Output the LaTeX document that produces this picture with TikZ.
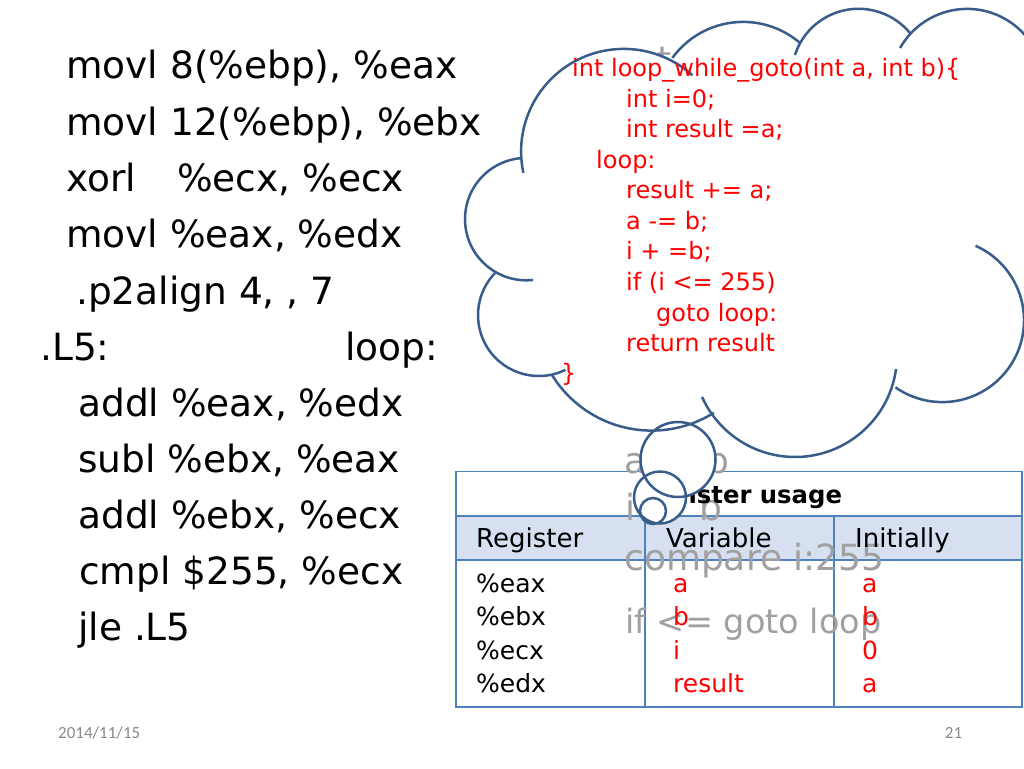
\documentclass[tikz,border=0pt]{standalone}
\usepackage{fontspec}
\setmainfont{DejaVu Sans}
\newfontfamily\footfont{Carlito}
\definecolor{cloudline}{RGB}{56,93,138}
\definecolor{tblline}{RGB}{79,129,189}
\definecolor{tblhead}{RGB}{214,224,240}
\definecolor{codered}{RGB}{255,0,0}
\definecolor{ghost}{RGB}{160,160,160}
\definecolor{footgray}{RGB}{137,137,137}
\newcommand\lobearc[5]{\draw[cloudstroke] ([shift={(#4:#3)}]#1,#2) arc[start angle=#4, end angle=#5, radius=#3];}
\begin{document}
\begin{tikzpicture}[x=1pt,y=-1pt,
  asm/.style={anchor=base west, inner sep=0, font=\fontsize{37.5}{40}\selectfont},
  code/.style={anchor=base west, inner sep=0, text=codered, font=\fontsize{24}{26}\selectfont},
  ghosttxt/.style={anchor=base west, inner sep=0, text=ghost, font=\fontsize{36}{38}\selectfont},
  cell/.style={anchor=base west, inner sep=0, font=\fontsize{25}{27}\selectfont},
  cellred/.style={cell, text=codered},
  foot/.style={inner sep=0, text=footgray, font=\footfont\fontsize{17}{19}\selectfont},
  cloudstroke/.style={draw=cloudline, line width=2.5pt},
  tbl/.style={draw=tblline, line width=1.2pt}]
\useasboundingbox (0,0) rectangle (1024,768);
\fill[white] (0,0) rectangle (1024,768);

% assembly
\node[asm] (a1) at (66,78) {movl 8(\%ebp), \%eax};
\node[asm] (a2) at (66,135) {movl 12(\%ebp), \%ebx};
\node[asm] (a3) at (66,191) {xorl\hspace{41pt}\%ecx, \%ecx};
\node[asm] (a4) at (66,247) {movl \%eax, \%edx};
\node[asm] (a5) at (76,304) {.p2align 4, , 7};
\node[asm] (a6) at (40,360) {.L5:};
\node[asm] (a6b) at (345,360) {loop:};
\node[asm] (a7) at (78,416) {addl \%eax, \%edx};
\node[asm] (a8) at (78,472) {subl \%ebx, \%eax};
\node[asm] (a9) at (78,528) {addl \%ebx, \%ecx};
\node[asm] (a10) at (79,584) {cmpl \$255, \%ecx};
\node[asm] (a11) at (78,640) {jle .L5};

% table
\fill[tblhead] (456,516) rectangle (1022,560);
\draw[tbl] (456,471.5) rectangle (1022,707);
\draw[tbl] (456,560) -- (1022,560);
\draw[tbl] (645,516) -- (645,707);
\draw[tbl] (834,516) -- (834,707);
\draw[tblline, line width=2.6pt] (456,516) -- (1022,516);

% ghost text
\node[ghosttxt] (g0) at (657,72) {t};
\node[ghosttxt] (g1a) at (624,473) {a};
\node[ghosttxt] (g1b) at (706,473) {b};
\node[ghosttxt] (g2a) at (625,520) {i};
\node[ghosttxt] (g2b) at (699,520) {b};
\node[ghosttxt] (g3) at (624,570) {compare i:255};
\node[ghosttxt, font=\fontsize{33.5}{36}\selectfont] (g4) at (625,633) {if <= goto loop};

% table text
\node[anchor=base, inner sep=0, font=\bfseries\fontsize{24.3}{26}\selectfont] (title) at (739,503) {Register usage};
\node[cell, font=\fontsize{26}{28}\selectfont] (h1) at (476,547) {Register};
\node[cell, font=\fontsize{26}{28}\selectfont] (h2) at (666,547) {Variable};
\node[cell, font=\fontsize{26}{28}\selectfont] (h3) at (855,547) {Initially};
\node[cell] (r1) at (476,592) {\%eax};
\node[cell] (r2) at (476,625.5) {\%ebx};
\node[cell] (r3) at (476,659) {\%ecx};
\node[cell] (r4) at (476,692.5) {\%edx};
\node[cellred] (v1) at (673,592) {a};
\node[cellred] (v2) at (673,625.5) {b};
\node[cellred] (v3) at (673,659) {i};
\node[cellred] (v4) at (673,692.5) {result};
\node[cellred] (i1) at (862,592) {a};
\node[cellred] (i2) at (862,625.5) {b};
\node[cellred] (i3) at (862,659) {0};
\node[cellred] (i4) at (862,692.5) {a};

% cloud
\begin{scope}
\clip (0,0) rectangle (1024,768);
\fill[white] ([shift={(177:102.6)}]623.7,151.5) arc[start angle=177,end angle=298,radius=102.6]
 -- ([shift={(215:87.5)}]743.1,109.4) arc[start angle=215,end angle=311,radius=87.5]
 -- ([shift={(205:66.8)}]858.5,75.6) arc[start angle=205,end angle=321,radius=66.8]
 -- ([shift={(223:77)}]967.1,85.9) arc[start angle=223,end angle=360,radius=77]
 -- (1060,160)
 -- ([shift={(-40:81.7)}]942.3,320.4) arc[start angle=-40,end angle=125,radius=81.7]
 -- ([shift={(20:102)}]795,355) arc[start angle=20,end angle=145,radius=102]
 -- ([shift={(60:117.2)}]651.7,313.4) arc[start angle=60,end angle=148,radius=117.2]
 -- ([shift={(79:60.8)}]538.8,315.2) arc[start angle=79,end angle=224,radius=60.8]
 -- ([shift={(120:61.2)}]526.2,219.1) arc[start angle=120,end angle=266,radius=61.2]
 -- cycle;
\fill[white] (678,459.5) circle[radius=37.5];
\fill[white] (660,497.5) circle[radius=26];
\fill[white] (653,511) circle[radius=13];
\lobearc{623.7}{151.5}{102.6}{168}{312}
\lobearc{743.1}{109.4}{87.5}{216}{311}
\lobearc{858.5}{75.6}{66.8}{198}{321}
\lobearc{967.1}{85.9}{77}{209.5}{360}
\lobearc{942.3}{320.4}{81.7}{-66}{125}
\lobearc{795}{355}{102}{7.9}{155.7}
\lobearc{651.7}{313.4}{117.2}{58}{148.3}
\lobearc{538.8}{315.2}{60.8}{64}{224}
\lobearc{526.2}{219.1}{61.2}{83.6}{266}
\draw[cloudstroke] (678,459.5) circle[radius=37.5];
\draw[cloudstroke] (660,497.5) circle[radius=26];
\draw[cloudstroke] (653,511) circle[radius=13];
\end{scope}

% code in cloud
\node[code] (c1) at (572,76) {int loop\_while\_goto(int a, int b)\{};
\node[code] (c2) at (626,107) {int i=0;};
\node[code] (c3) at (626,137) {int result =a;};
\node[code] (c4) at (596,168) {loop:};
\node[code] (c5) at (626,198) {result += a;};
\node[code] (c6) at (626,229) {a -= b;};
\node[code] (c7) at (626,259) {i + =b;};
\node[code] (c8) at (626,290) {if (i <= 255)};
\node[code] (c9) at (656,321) {goto loop:};
\node[code] (c10) at (626,351) {return result};
\node[code] (c11) at (561,381) {\}};

% footer
\node[foot, anchor=west] (date) at (58,733) {2014/11/15};
\node[foot] (page) at (953.5,733) {21};
\end{tikzpicture}
\end{document}
